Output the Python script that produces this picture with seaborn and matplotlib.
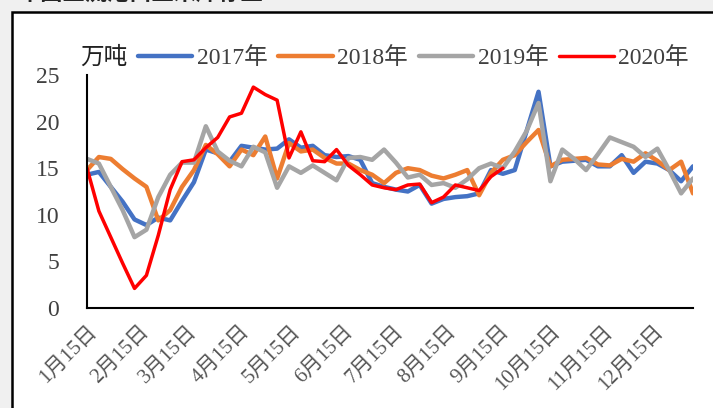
import matplotlib
matplotlib.use("Agg")
import matplotlib.pyplot as plt
import matplotlib.transforms as mtransforms
import pandas as pd
import seaborn as sns
from matplotlib.patches import Rectangle

# ---------------------------------------------------------------------------
# Data (weekly values, 万吨)
# ---------------------------------------------------------------------------
years = ["2017年", "2018年", "2019年", "2020年"]
colors = ["#4472C4", "#ED7D31", "#A5A5A5", "#FF0000"]
widths = [3.2, 3.2, 3.2, 2.5]

v2017 = [14.3, 14.6, 13.0, 11.4, 9.5, 8.9, 9.7, 9.4, 11.5, 13.5,
         17.0, 16.6, 15.7, 17.4, 17.2, 17.0, 17.1, 18.1, 17.2, 17.4,
         16.4, 16.2, 16.3, 15.9, 13.4, 13.0, 12.7, 12.5, 13.2, 11.2,
         11.7, 11.9, 12.0, 12.3, 14.8, 14.4, 14.8, 19.0, 23.2, 15.2,
         15.7, 15.8, 15.9, 15.2, 15.2, 16.4, 14.5, 15.7, 15.5, 14.8,
         13.6, 15.2]
v2018 = [14.8, 16.2, 16.0, 14.9, 13.9, 13.0, 9.4, 10.5, 13.0, 14.8,
         17.5, 16.5, 15.2, 17.0, 16.4, 18.4, 13.9, 17.7, 16.8, 17.0,
         16.1, 15.5, 15.5, 14.8, 14.3, 13.4, 14.5, 15.0, 14.8, 14.2,
         13.9, 14.3, 14.8, 12.1, 14.5, 15.9, 16.4, 17.8, 19.1, 15.2,
         15.9, 16.0, 16.1, 15.4, 15.3, 16.0, 15.7, 16.6, 15.8, 14.8,
         15.7, 12.3]
v2019 = [16.0, 15.5, 13.0, 10.5, 7.6, 8.4, 11.9, 14.3, 15.6, 15.6,
         19.5, 16.8, 15.8, 15.2, 17.3, 16.7, 12.9, 15.2, 14.5, 15.3,
         14.5, 13.7, 16.1, 16.2, 15.9, 17.0, 15.6, 14.0, 14.3, 13.2,
         13.4, 12.9, 13.8, 15.0, 15.5, 15.0, 16.8, 19.0, 22.0, 13.6,
         17.0, 16.0, 14.8, 16.5, 18.3, 17.8, 17.3, 16.2, 17.1, 14.8,
         12.3, 13.9]
v2020 = [15.0, 10.4, 7.6, 4.8, 2.1, 3.5, 7.8, 12.7, 15.7, 15.9,
         17.2, 18.3, 20.5, 20.9, 23.7, 22.9, 22.3, 16.1, 18.9, 15.8,
         15.7, 17.0, 15.3, 14.3, 13.2, 12.9, 12.7, 13.2, 13.3, 11.3,
         11.9, 13.2, 12.9, 12.6, 14.1, 15.0]

tick_labels = ["1月15日", "2月15日", "3月15日", "4月15日", "5月15日", "6月15日",
               "7月15日", "8月15日", "9月15日", "10月15日", "11月15日", "12月15日"]
y_ticks = [0, 5, 10, 15, 20, 25]

# weekly dates on a common (non-leap) base year
dates = pd.date_range("2017-01-15", periods=52, freq="7D")
tick_dates = pd.date_range("2017-01-01", periods=12, freq="MS") + pd.Timedelta(days=14)

frames = []
for name, vals in zip(years, [v2017, v2018, v2019, v2020]):
    frames.append(pd.DataFrame({"date": dates[:len(vals)], "value": vals, "year": name}))
df = pd.concat(frames, ignore_index=True)

# ---------------------------------------------------------------------------
# Figure
# ---------------------------------------------------------------------------
sns.set_style("white")
plt.rcParams["font.family"] = ["Liberation Serif", "Noto Sans CJK SC"]

fig = plt.figure(figsize=(7.13, 4.08), dpi=100, facecolor="#f0f0f0")
fig.patches.append(Rectangle((12 / 713, -0.1), 1.2, 1 - 12 / 408 + 0.1,
                             transform=fig.transFigure, facecolor="white",
                             edgecolor="black", linewidth=1.8, zorder=-5))
fig.text(18 / 713, 1 - 5 / 408, "中国主流港口玉米库存量", fontsize=16, fontweight="bold",
         family=["Noto Sans CJK SC"], va="bottom", ha="left")

ax = fig.add_axes([87 / 713, 1 - 308 / 408, (693 - 87) / 713, (308 - 75) / 408])
ax.set_facecolor("none")
ax.set_zorder(2)

for name, col, lw in zip(years, colors, widths):
    sns.lineplot(data=df[df["year"] == name], x="date", y="value", color=col,
                 linewidth=lw, ax=ax, label=name)

ax.set_xlim(dates[0], dates[-1])
ax.set_ylim(0, 25)
ax.set_yticks(y_ticks)
ax.set_xticks(tick_dates)
ax.set_xticklabels(tick_labels, rotation=45, ha="right", va="top",
                   rotation_mode="anchor", fontsize=15, color="#555555")
# nudge the rotated labels a little left, as in the reference
shift = mtransforms.ScaledTranslation(-7 / 100, -2 / 100, fig.dpi_scale_trans)
for lab in ax.get_xticklabels():
    lab.set_transform(lab.get_transform() + shift)
ax.tick_params(axis="y", labelsize=17, labelcolor="#404040", pad=20)
ax.tick_params(direction="in", length=5, width=1.5, color="black")
ax.tick_params(axis="x", pad=10)
ax.set_xlabel("")
ax.set_ylabel("")
sns.despine(ax=ax)
for s in ["left", "bottom"]:
    ax.spines[s].set_linewidth(1.5)
    ax.spines[s].set_color("black")

fig.text(80 / 713, 1 - 58 / 408, "万吨", fontsize=17, va="center", ha="left",
         color="#202020")
ax.legend(loc="center left", bbox_to_anchor=(138 / 713, 1 - 58 / 408),
          bbox_transform=fig.transFigure, ncol=4, frameon=False, fontsize=17,
          handlelength=2.3, handletextpad=0.2, columnspacing=0.45,
          borderaxespad=0, borderpad=0, labelcolor="#404040")

fig.savefig("out.png", dpi=100, facecolor=fig.get_facecolor())
